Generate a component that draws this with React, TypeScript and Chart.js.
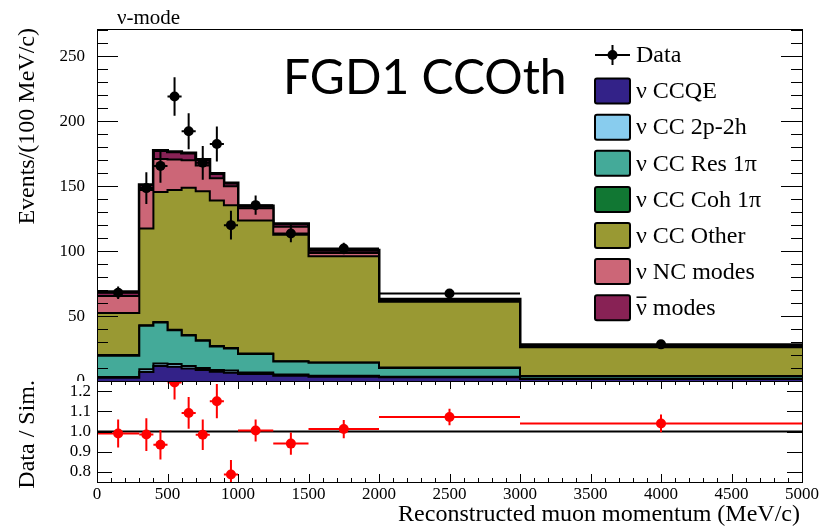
import { useEffect, useRef } from "react";
import { Chart, registerables } from "chart.js";

Chart.register(...registerables);

// Momentum bin edges (MeV/c)
const binEdges = [0, 300, 400, 500, 600, 700, 800, 900, 1000, 1250, 1500, 2000, 3000, 5000];

// Simulated event rates per 100 MeV/c, one value per bin
const nuCCQE = [2.5, 7.0, 11.5, 11.0, 9.7, 8.5, 7.2, 6.4, 5.4, 4.0, 3.3, 2.8, 1.5];
const nuCC2p2h = [0.5, 2.0, 2.0, 2.0, 1.8, 1.5, 1.3, 1.6, 1.1, 1.0, 0.7, 0.5, 0.3];
const nuCCRes = [16.5, 33.5, 31.5, 26.0, 23.5, 21.0, 18.0, 17.0, 14.3, 10.0, 10.0, 6.7, 1.8];
const nuCCCoh = [0.5, 0.5, 0.5, 0.5, 0.4, 0.4, 0.4, 0.4, 0.4, 0.3, 0.3, 0.3, 0.2];
const nuCCOther = [32.3, 74.5, 100.0, 107.5, 113.4, 114.6, 112.1, 110.0, 102.3, 97.2, 81.7, 50.7, 22.2];
const nuNC = [13.2, 29.5, 25.5, 23.5, 21.2, 20.0, 17.0, 14.6, 9.5, 6.3, 2.6, 1.2, 0.6];
const antiNu = [3.3, 4.0, 6.5, 6.0, 5.6, 4.5, 3.8, 2.5, 1.7, 2.2, 2.0, 0.8, 0.5];

// Measured rates per 100 MeV/c and their statistical errors
const dataCounts = [68.0, 148.5, 165.6, 219.0, 192.3, 168.0, 182.5, 120.0, 135.4, 113.6, 102.0, 67.4, 28.2];
const dataErrors = [4.8, 12.2, 12.9, 14.8, 13.9, 13.0, 13.5, 11.0, 7.4, 6.7, 4.5, 2.6, 1.2];

// Data / simulation ratio per bin
const ratioValues = [0.99, 0.985, 0.934, 1.243, 1.092, 0.984, 1.15, 0.787, 1.005, 0.94, 1.012, 1.072, 1.04];
const ratioErrors = [0.069, 0.081, 0.073, 0.084, 0.079, 0.076, 0.085, 0.072, 0.055, 0.055, 0.045, 0.041, 0.044];

// Axis tick labels
const yTicks = [0, 50, 100, 150, 200, 250];
const ratioTicks = [0.8, 0.9, 1.0, 1.1, 1.2];
const xTicks = [0, 500, 1000, 1500, 2000, 2500, 3000, 3500, 4000, 4500, 5000];

const componentLabels = [
  "ν CCQE",
  "ν CC 2p-2h",
  "ν CC Res 1π",
  "ν CC Coh 1π",
  "ν CC Other",
  "ν NC modes",
  "ν̄ modes",
];
const componentColors = ["#332288", "#88CCEE", "#44AA99", "#117733", "#999933", "#CC6677", "#882255"];
const componentValues = [nuCCQE, nuCC2p2h, nuCCRes, nuCCCoh, nuCCOther, nuNC, antiNu];

const SERIF = "'Liberation Serif', 'Times New Roman', serif";
const Y_MAX = 271;

const stepPoints = (vals: number[]) =>
  binEdges.map((x, i) => ({ x, y: vals[Math.min(i, vals.length - 1)] }));
const centers = dataCounts.map((_, i) => (binEdges[i] + binEdges[i + 1]) / 2);

function drawErrorBars(chart: any, values: number[], errors: number[], color: string) {
  const { ctx, chartArea: a, scales } = chart;
  const x = scales.x;
  const y = scales.y;
  ctx.save();
  ctx.beginPath();
  ctx.rect(a.left, a.top, a.right - a.left, a.bottom - a.top);
  ctx.clip();
  ctx.strokeStyle = color;
  ctx.lineWidth = 2;
  values.forEach((v, i) => {
    const px = x.getPixelForValue(centers[i]);
    const py = y.getPixelForValue(v);
    ctx.beginPath();
    ctx.moveTo(x.getPixelForValue(binEdges[i]), py);
    ctx.lineTo(x.getPixelForValue(binEdges[i + 1]), py);
    ctx.moveTo(px, y.getPixelForValue(v - errors[i]));
    ctx.lineTo(px, y.getPixelForValue(v + errors[i]));
    ctx.stroke();
  });
  ctx.restore();
}

function hLine(ctx: CanvasRenderingContext2D, x0: number, x1: number, yy: number) {
  const y = Math.round(yy) + 0.5;
  ctx.moveTo(x0, y);
  ctx.lineTo(x1, y);
}
function vLine(ctx: CanvasRenderingContext2D, xx: number, y0: number, y1: number) {
  const x = Math.round(xx) + 0.5;
  ctx.moveTo(x, y0);
  ctx.lineTo(x, y1);
}

function drawRotatedTitle(ctx: CanvasRenderingContext2D, text: string, x: number, yTop: number) {
  ctx.save();
  ctx.translate(x, yTop);
  ctx.rotate(-Math.PI / 2);
  ctx.font = `24px ${SERIF}`;
  ctx.fillStyle = "#000";
  ctx.textAlign = "right";
  ctx.textBaseline = "alphabetic";
  ctx.fillText(text, 0, 0);
  ctx.restore();
}

// Legend text; an antineutrino label gets its bar drawn as a stroke over the ν
function drawLegendText(ctx: CanvasRenderingContext2D, label: string, x: number, y: number) {
  if (label.startsWith("ν̄")) {
    const rest = label.slice(2);
    ctx.fillText("ν", x, y);
    const w = ctx.measureText("ν").width;
    ctx.save();
    ctx.lineWidth = 1.5;
    ctx.beginPath();
    ctx.moveTo(x + 0.5, y - 11.5);
    ctx.lineTo(x + w - 0.5, y - 11.5);
    ctx.stroke();
    ctx.restore();
    ctx.fillText(rest, x + w, y);
  } else {
    ctx.fillText(label, x, y);
  }
}

const mainDecor = {
  id: "mainDecor",
  afterDatasetsDraw(chart: any) {
    drawErrorBars(chart, dataCounts, dataErrors, "#000");
  },
  afterDraw(chart: any) {
    const { ctx, chartArea: a, scales } = chart;
    const y = scales.y;
    ctx.save();
    ctx.strokeStyle = "#000";
    ctx.lineWidth = 1;
    ctx.beginPath();
    // frame
    hLine(ctx, a.left, a.right + 1, a.top);
    vLine(ctx, a.left, a.top, a.bottom);
    vLine(ctx, a.right, a.top, a.bottom);
    // inward ticks on both vertical edges
    for (let v = 0; v <= Y_MAX; v += 10) {
      const len = v % 50 === 0 ? 21 : 11;
      const py = y.getPixelForValue(v);
      hLine(ctx, a.left, a.left + len, py);
      hLine(ctx, a.right - len, a.right, py);
    }
    ctx.stroke();

    // legend
    const lx = 595;
    const rowY0 = 55;
    const step = 36.1;
    ctx.font = `24px ${SERIF}`;
    ctx.textAlign = "left";
    ctx.textBaseline = "middle";
    ctx.fillStyle = "#000";
    ctx.lineWidth = 2;
    ctx.beginPath();
    ctx.moveTo(lx, rowY0);
    ctx.lineTo(lx + 35, rowY0);
    ctx.moveTo(lx + 17.5, rowY0 - 10);
    ctx.lineTo(lx + 17.5, rowY0 + 10);
    ctx.stroke();
    ctx.beginPath();
    ctx.arc(lx + 17.5, rowY0, 5, 0, Math.PI * 2);
    ctx.fill();
    ctx.fillText("Data", lx + 41, rowY0 + 1);
    componentLabels.forEach((label, i) => {
      const cy = rowY0 + step * (i + 1);
      ctx.beginPath();
      ctx.roundRect(lx, cy - 12.5, 35, 25, 2);
      ctx.fillStyle = componentColors[i];
      ctx.fill();
      ctx.lineWidth = 2;
      ctx.strokeStyle = "#000";
      ctx.stroke();
      ctx.fillStyle = "#000";
      drawLegendText(ctx, label, lx + 41, cy + 1);
    });

    // titles
    ctx.font = `21px ${SERIF}`;
    ctx.textBaseline = "alphabetic";
    ctx.fillText("ν-mode", 117, 24);
    ctx.font = "48px Lato, 'Open Sans', sans-serif";
    ctx.fillText("FGD1 CCOth", 283, 94);
    ctx.restore();
    drawRotatedTitle(ctx, "Events/(100 MeV/c)", 33.5, 28);
  },
};

const ratioDecor = {
  id: "ratioDecor",
  afterDatasetsDraw(chart: any) {
    drawErrorBars(chart, ratioValues, ratioErrors, "#ff0000");
  },
  afterDraw(chart: any) {
    const { ctx, chartArea: a, scales } = chart;
    const x = scales.x;
    const y = scales.y;
    ctx.save();
    ctx.strokeStyle = "#000";
    ctx.lineWidth = 1;
    ctx.beginPath();
    hLine(ctx, a.left, a.right + 1, a.top);
    hLine(ctx, a.left, a.right + 1, a.bottom);
    vLine(ctx, a.left, a.top, a.bottom);
    vLine(ctx, a.right, a.top, a.bottom);
    ratioTicks.forEach((v) => {
      const py = y.getPixelForValue(v);
      hLine(ctx, a.left, a.left + 15, py);
      hLine(ctx, a.right - 15, a.right, py);
    });
    for (let v = 0; v <= 5000; v += 100) {
      const len = v % 500 === 0 ? 8 : 4;
      const px = x.getPixelForValue(v);
      vLine(ctx, px, a.bottom - len, a.bottom);
      vLine(ctx, px, a.top, a.top + len);
    }
    ctx.stroke();

    ctx.font = `24px ${SERIF}`;
    ctx.fillStyle = "#000";
    ctx.textAlign = "right";
    ctx.textBaseline = "alphabetic";
    ctx.fillText("Reconstructed muon momentum (MeV/c)", 800, 151);
    ctx.restore();
    drawRotatedTitle(ctx, "Data / Sim.", 33.5, 10);
  },
};

const tickFont = { family: SERIF, size: 17 };

// Fixed axis sizes so both panels share the same plotting columns
const fixWidth = (s: any) => {
  s.width = 97;
  s.paddingTop = 0;
  s.paddingBottom = 0;
};
const fixHeight = (s: any) => {
  s.height = 48;
  s.paddingLeft = 0;
  s.paddingRight = 0;
};

export default function App() {
  const topRef = useRef<HTMLCanvasElement>(null);
  const botRef = useRef<HTMLCanvasElement>(null);

  useEffect(() => {
    const stackSets = componentValues.map((vals, i) => ({
      label: componentLabels[i],
      data: stepPoints(vals),
      stepped: "before" as const,
      fill: i === 0 ? "origin" : "-1",
      backgroundColor: componentColors[i],
      borderColor: "#000",
      borderWidth: i === componentValues.length - 1 ? 3 : 2,
      pointRadius: 0,
    }));

    const main = new Chart(topRef.current as HTMLCanvasElement, {
      type: "line",
      data: {
        datasets: [
          {
            label: "Data",
            data: dataCounts.map((v, i) => ({ x: centers[i], y: v })),
            showLine: false,
            pointRadius: 5,
            pointBackgroundColor: "#000",
            pointBorderWidth: 0,
            stack: "data",
            fill: false,
          } as any,
          ...stackSets,
        ],
      },
      options: {
        animation: false,
        responsive: false,
        devicePixelRatio: 1,
        layout: { autoPadding: false, padding: { left: 0, right: 21, top: 29, bottom: 0 } },
        plugins: { legend: { display: false }, tooltip: { enabled: false } },
        scales: {
          x: { type: "linear", min: 0, max: 5000, display: false },
          y: {
            type: "linear",
            stacked: true,
            min: 0,
            max: Y_MAX,
            afterFit: fixWidth,
            afterBuildTicks: (s: any) => {
              s.ticks = yTicks.map((value) => ({ value }));
            },
            grid: { display: false, drawTicks: false },
            border: { display: false },
            ticks: {
              padding: 12,
              color: "#000",
              font: tickFont,
              callback: (v: any) => String(v),
            },
          },
        },
      },
      plugins: [mainDecor],
    } as any);

    const ratio = new Chart(botRef.current as HTMLCanvasElement, {
      type: "line",
      data: {
        datasets: [
          {
            label: "Data / Sim.",
            data: ratioValues.map((v, i) => ({ x: centers[i], y: v })),
            showLine: false,
            pointRadius: 5,
            pointBackgroundColor: "#ff0000",
            pointBorderWidth: 0,
          },
          {
            label: "unity",
            data: [
              { x: 0, y: 1 },
              { x: 5000, y: 1 },
            ],
            borderColor: "#000",
            borderWidth: 2,
            pointRadius: 0,
          },
        ],
      },
      options: {
        animation: false,
        responsive: false,
        devicePixelRatio: 1,
        layout: { autoPadding: false, padding: { left: 0, right: 21, top: 11, bottom: 0 } },
        plugins: { legend: { display: false }, tooltip: { enabled: false } },
        scales: {
          x: {
            type: "linear",
            min: 0,
            max: 5000,
            afterFit: fixHeight,
            afterBuildTicks: (s: any) => {
              s.ticks = xTicks.map((value) => ({ value }));
            },
            grid: { display: false, drawTicks: false },
            border: { display: false },
            ticks: {
              padding: 2,
              autoSkip: false,
              maxRotation: 0,
              color: "#000",
              font: tickFont,
              callback: (v: any) => String(v),
            },
          },
          y: {
            type: "linear",
            min: 0.75,
            max: 1.25,
            afterFit: fixWidth,
            afterBuildTicks: (s: any) => {
              s.ticks = ratioTicks.map((value) => ({ value }));
            },
            grid: { display: false, drawTicks: false },
            border: { display: false },
            ticks: {
              padding: 6,
              color: "#000",
              font: tickFont,
              callback: (v: any) => Number(v).toFixed(1),
            },
          },
        },
      },
      plugins: [ratioDecor],
    } as any);

    return () => {
      main.destroy();
      ratio.destroy();
    };
  }, []);

  return (
    <div style={{ position: "fixed", left: 0, top: 0, width: 823, height: 530, background: "#fff" }}>
      <canvas
        ref={topRef}
        width={823}
        height={381}
        style={{ position: "absolute", left: 0, top: 0, width: 823, height: 381 }}
      />
      <canvas
        ref={botRef}
        width={823}
        height={160}
        style={{ position: "absolute", left: 0, top: 370, width: 823, height: 160 }}
      />
    </div>
  );
}
